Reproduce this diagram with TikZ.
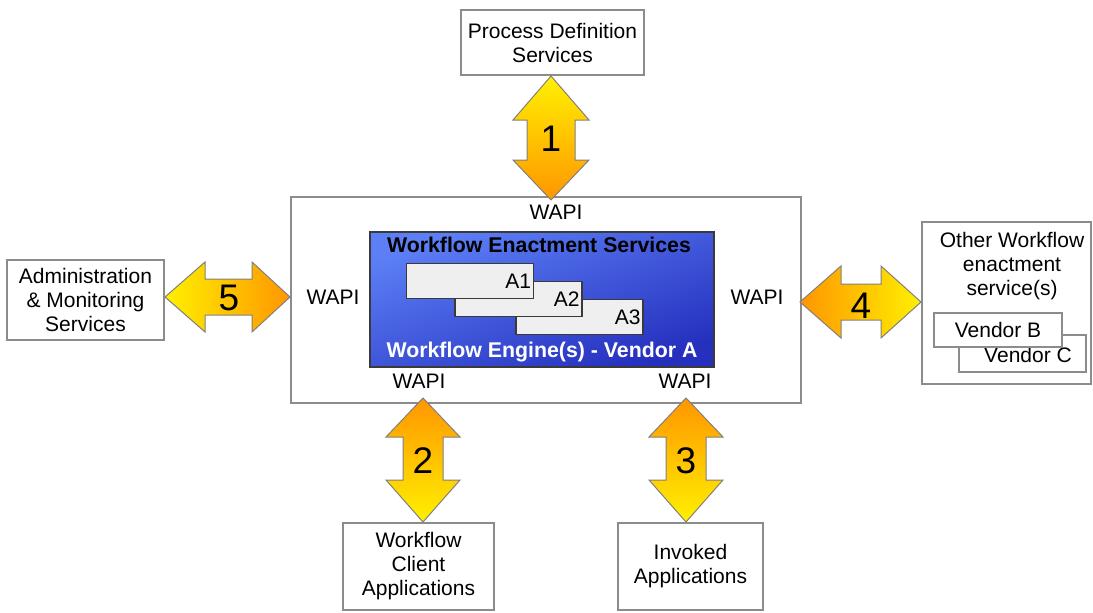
\documentclass[tikz,border=0pt]{standalone}
\usepackage{fontspec}
\setmainfont{Liberation Sans}
\newcommand\fsz[2]{\fontsize{#1}{#2}\selectfont}
\definecolor{boxgray}{HTML}{8C8C8C}
\definecolor{darkline}{HTML}{3A3A3A}
\definecolor{ayellow}{HTML}{FFF000}
\definecolor{aorange}{HTML}{FF9600}
\definecolor{bluelight}{HTML}{5C7FF6}
\definecolor{bluedark}{HTML}{2530BE}
\definecolor{appfill}{HTML}{EFEFEF}
\begin{document}
\begin{tikzpicture}[x=1pt,y=-1pt,
  box/.style={draw=boxgray, line width=1.5pt, fill=white, inner sep=0pt,
    font=\fsz{21}{24}, align=center},
  appbox/.style={draw=darkline, line width=1.5pt, fill=appfill, inner sep=0pt,
    minimum width=127pt, minimum height=35pt},
  applabel/.style={anchor=east, inner sep=3pt, font=\fsz{21}{24}},
  wapi/.style={font=\fsz{21}{24}, inner sep=0pt},
  num/.style={font=\fsz{37}{37}, inner sep=0pt},
  blockarrow/.style={draw=gray, line width=1pt, line join=miter}
]
\useasboundingbox (0,0) rectangle (1093,613);

% outer services
\node[box, minimum width=183pt, minimum height=65pt] (pds) at (552.5,42.5)
  {Process Definition\\Services};
\node[box, minimum width=157pt, minimum height=80pt] (adm) at (85.5,300)
  {Administration\\\& Monitoring\\Services};
\node[box, minimum width=151pt, minimum height=87pt] (wca) at (418.5,566.5)
  {Workflow\\Client\\Applications};
\node[box, minimum width=145pt, minimum height=87pt] (inv) at (690.5,566.5)
  {Invoked\\Applications};

% other enactment services
\node[box, minimum width=169pt, minimum height=162pt] (other) at (1006.5,303) {};
\node[font=\fsz{21}{24}, align=center, anchor=north, inner sep=0pt] (othertxt)
  at (1012,232) {Other Workflow\\enactment\\service(s)};
\node[box, minimum width=127pt, minimum height=37pt] (vc) at (1022.5,353.5) {};
\node[font=\fsz{21}{24}, inner sep=0pt] (vctxt) at (1028,355) {Vendor C};
\node[box, minimum width=128pt, minimum height=34pt] (vb) at (998,330) {Vendor B};

% workflow engine
\node[box, minimum width=510pt, minimum height=206pt] (engine) at (546,300) {};
\node[draw=darkline, line width=1.5pt, inner sep=0pt,
  minimum width=344pt, minimum height=135pt,
  top color=bluelight, bottom color=bluedark, shading angle=20] (blue) at (542,299.5) {};
\node[font=\bfseries\fsz{21.3}{24}, inner sep=0pt] (wes) at (539,245)
  {Workflow Enactment Services};
\node[font=\bfseries\fsz{21.3}{24}, text=white, inner sep=0pt] (wev) at (542,352)
  {Workflow Engine(s) - Vendor A};

\node[appbox] (a3) at (579.5,317) {};
\node[applabel] at (a3.east) {A3};
\node[appbox] (a2) at (518.5,299) {};
\node[applabel] at (a2.east) {A2};
\node[appbox] (a1) at (470,281) {};
\node[applabel] at (a1.east) {A1};

% interface labels
\node[wapi] (wt) at (556,212) {WAPI};
\node[wapi] (wl) at (333,297) {WAPI};
\node[wapi] (wr) at (757,297) {WAPI};
\node[wapi] (wbl) at (419,381) {WAPI};
\node[wapi] (wbr) at (685,381) {WAPI};

% interface 1
\shadedraw[blockarrow, top color=ayellow, bottom color=aorange]
  (551,76) -- (589,120) -- (575,120) -- (575,160) -- (589,160) -- (551,200)
  -- (513,160) -- (527,160) -- (527,120) -- (513,120) -- cycle;
\node[num] (n1) at (551,139) {1};

% interface 2
\shadedraw[blockarrow, top color=aorange, bottom color=ayellow]
  (423,398) -- (460,437) -- (443,437) -- (443,480) -- (460,480) -- (423,522)
  -- (386,480) -- (403,480) -- (403,437) -- (386,437) -- cycle;
\node[num] (n2) at (423,461) {2};

% interface 3
\shadedraw[blockarrow, top color=aorange, bottom color=ayellow]
  (686,398) -- (723,437) -- (706,437) -- (706,480) -- (723,480) -- (686,522)
  -- (649,480) -- (666,480) -- (666,437) -- (649,437) -- cycle;
\node[num] (n3) at (686,461) {3};

% interface 5
\shadedraw[blockarrow, left color=ayellow, right color=aorange]
  (165,297) -- (205,262) -- (205,279) -- (252,279) -- (252,262) -- (290,297)
  -- (252,332) -- (252,315) -- (205,315) -- (205,332) -- cycle;
\node[num] (n5) at (229,298) {5};

% interface 4
\shadedraw[blockarrow, left color=aorange, right color=ayellow]
  (800,302) -- (841,266) -- (841,284) -- (881,284) -- (881,266) -- (921,302)
  -- (881,338) -- (881,320) -- (841,320) -- (841,338) -- cycle;
\node[num] (n4) at (861,306) {4};
\end{tikzpicture}
\end{document}
